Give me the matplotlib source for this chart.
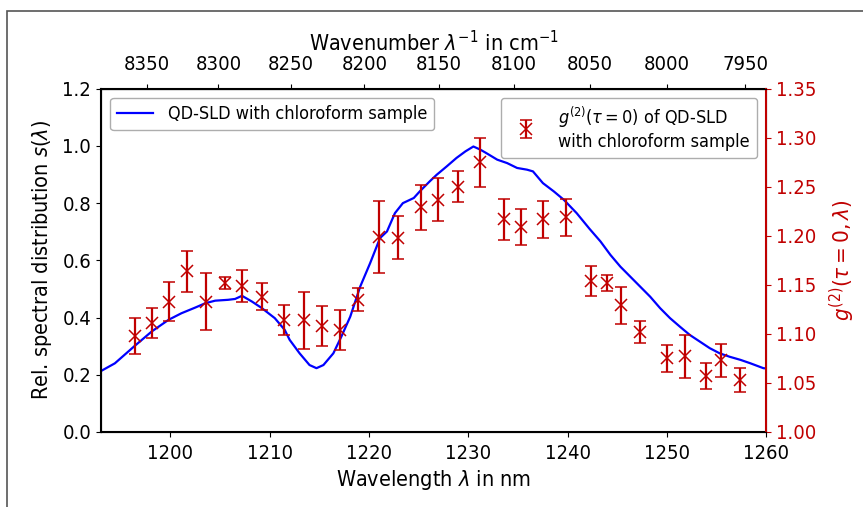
import matplotlib
matplotlib.use('Agg')
import matplotlib.pyplot as plt
from matplotlib.patches import Rectangle

plt.rcParams['font.family'] = ['DejaVu Sans']
plt.rcParams['font.stretch'] = 'condensed'
plt.rcParams['mathtext.fontset'] = 'dejavusans'

RED = '#c00000'

# spectrum of the QD-SLD
wl = [1193.0, 1194.4, 1196.4, 1198.1, 1199.8, 1201.1, 1202.5, 1203.5, 1204.5,
      1205.8, 1206.5, 1207.2, 1208.2, 1209.2, 1210.5, 1211.5, 1212.0, 1213.0,
      1214.0, 1214.7, 1215.4, 1216.4, 1217.2, 1218.1, 1219.1, 1220.1, 1221.1,
      1221.8, 1222.6, 1223.4, 1224.5, 1225.1, 1226.1, 1226.8, 1227.8, 1228.8,
      1229.7, 1230.5, 1231.2, 1231.8, 1232.9, 1233.9, 1234.9, 1235.9, 1236.5,
      1237.5, 1238.6, 1239.6, 1240.9, 1242.2, 1243.3, 1244.3, 1245.3, 1246.3,
      1247.3, 1248.3, 1249.3, 1250.3, 1251.3, 1252.3, 1253.3, 1254.3, 1255.3,
      1256.3, 1257.4, 1258.4, 1259.7, 1260.0]
spec = [0.213, 0.240, 0.301, 0.351, 0.392, 0.415, 0.435, 0.450, 0.459,
        0.462, 0.465, 0.476, 0.456, 0.433, 0.398, 0.357, 0.322, 0.275,
        0.234, 0.223, 0.234, 0.275, 0.333, 0.403, 0.508, 0.590, 0.678,
        0.701, 0.765, 0.800, 0.818, 0.841, 0.876, 0.899, 0.928, 0.958,
        0.981, 0.998, 0.987, 0.975, 0.952, 0.940, 0.923, 0.917, 0.911,
        0.870, 0.841, 0.812, 0.765, 0.710, 0.666, 0.619, 0.578, 0.543,
        0.508, 0.473, 0.433, 0.398, 0.368, 0.339, 0.316, 0.293, 0.275,
        0.263, 0.252, 0.240, 0.223, 0.222]

# g2(tau=0) measurements
g2_wl = [1196.4, 1198.1, 1199.8, 1201.7, 1203.6, 1205.5, 1207.2, 1209.2,
         1211.4, 1213.4, 1215.3, 1217.1, 1218.9, 1221.0, 1222.9, 1225.2,
         1226.9, 1229.0, 1231.2, 1233.6, 1235.3, 1237.5, 1239.8, 1242.3,
         1244.0, 1245.4, 1247.3, 1250.0, 1251.8, 1253.9, 1255.4, 1257.3]
g2 = [1.098, 1.111, 1.133, 1.164, 1.133, 1.152, 1.149, 1.138,
      1.114, 1.114, 1.108, 1.104, 1.135, 1.199, 1.198, 1.229,
      1.237, 1.250, 1.275, 1.217, 1.209, 1.217, 1.219, 1.154,
      1.152, 1.129, 1.102, 1.075, 1.077, 1.057, 1.073, 1.053]
g2_err = [0.018, 0.015, 0.020, 0.021, 0.029, 0.006, 0.016, 0.014,
          0.015, 0.029, 0.020, 0.020, 0.012, 0.037, 0.022, 0.023,
          0.022, 0.016, 0.025, 0.021, 0.018, 0.019, 0.019, 0.015,
          0.008, 0.019, 0.011, 0.014, 0.022, 0.013, 0.017, 0.012]

wn_ticks = [8350, 8300, 8250, 8200, 8150, 8100, 8050, 8000, 7950]
g2_ticks = [1.00, 1.05, 1.10, 1.15, 1.20, 1.25, 1.30, 1.35]

fig = plt.figure(figsize=(8.63, 5.07), dpi=100)
ax1 = fig.add_axes([0.117, 0.148, 0.771, 0.677])
ax1.plot(wl, spec, c='blue', lw=1.6, label='QD-SLD with chloroform sample')
ax1.set_xlim(1193, 1260)
ax1.set_ylim(0, 1.2)
ax1.set_xticks([1200, 1210, 1220, 1230, 1240, 1250, 1260])
ax1.set_yticks([0.0, 0.2, 0.4, 0.6, 0.8, 1.0, 1.2])
ax1.set_xlabel(r'Wavelength $\lambda$ in nm', fontsize=15.5, labelpad=3)
ax1.set_ylabel(r'Rel. spectral distribution $s(\lambda)$', fontsize=15.5, labelpad=6)
ax1.tick_params(labelsize=14.5)
ax1.tick_params(axis='x', pad=5.5)
ax1.legend(loc='upper left', fontsize=13, borderaxespad=0.5,
           edgecolor='#999999', handlelength=2)

# wavenumber on top
top = ax1.secondary_xaxis('top', functions=(lambda x: 1e7 / x, lambda k: 1e7 / k))
top.set_xticks(wn_ticks)
top.set_xlabel(r'Wavenumber $\lambda^{-1}$ in cm$^{-1}$', fontsize=15.5, labelpad=3)
top.tick_params(labelsize=14.5, pad=7)

ax2 = ax1.twinx()
ax2.errorbar(g2_wl, g2, yerr=g2_err, fmt='x', color=RED, ms=8, mew=1.1,
             elinewidth=1.6, capsize=4.5, capthick=1.4,
             label='$g^{(2)}(\\tau=0)$ of QD-SLD\nwith chloroform sample')
ax2.set_ylim(1.0, 1.35)
ax2.set_yticks(g2_ticks)
ax2.set_yticklabels(['%.2f' % v for v in g2_ticks], fontsize=14.5)
ax2.set_ylabel(r'$g^{(2)}(\tau=0,\lambda)$', fontsize=16, color=RED, labelpad=8)
ax2.tick_params(axis='y', colors=RED)
ax2.spines['right'].set_color(RED)
ax2.spines['right'].set_linewidth(1.5)
ax2.legend(loc='upper right', fontsize=13, borderaxespad=0.5,
           edgecolor='#999999')

for s in ['left', 'bottom', 'top']:
    ax1.spines[s].set_linewidth(1.5)

# border of the original figure crop
fig.add_artist(Rectangle((7 / 863, -0.1), 1.2, 1 - 11 / 507 + 0.1,
                         transform=fig.transFigure, fill=False,
                         edgecolor='#555555', lw=1.2))

fig.savefig('out.png', dpi=100)
